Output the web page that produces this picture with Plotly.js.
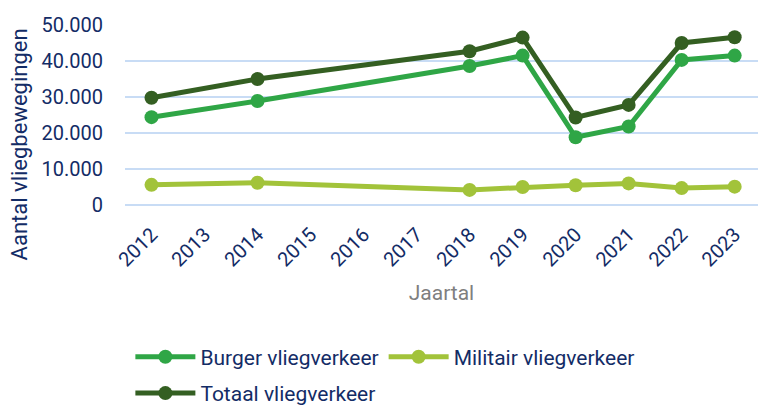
<!DOCTYPE html>
<html>
<head>
<meta charset="utf-8">
<script src="https://cdn.plot.ly/plotly-3.0.1.min.js"></script>
<style>html,body{margin:0;padding:0;background:#fff;}#chart{width:758px;height:409px;}</style>
</head>
<body>
<div id="chart"></div>
<script>
const years = ['2012','2013','2014','2015','2016','2017','2018','2019','2020','2021','2022','2023'];
const burger  = [24400, null, 28900, null, null, null, 38600, 41500, 18800, 21800, 40300, 41500];
const militair = [5600, null, 6200, null, null, null, 4200, 5000, 5500, 6000, 4700, 5100];
const totaal  = [29800, null, 35000, null, null, null, 42700, 46500, 24300, 27800, 45000, 46600];
const yTicks = [0, 10000, 20000, 30000, 40000, 50000];
const yTickText = ['0', '10.000', '20.000', '30.000', '40.000', '50.000'];

const navy = '#132c66';
const font = 'Roboto, "Open Sans", sans-serif';

function tr(name, y, color, legend) {
  return {
    type: 'scatter', mode: 'lines+markers', name: name, x: years, y: y,
    connectgaps: true, legend: legend,
    line: {color: color, width: 5},
    marker: {color: color, size: 14},
    hoverinfo: 'skip'
  };
}

const data = [
  tr('Burger vliegverkeer', burger, '#2fa646', 'legend'),
  tr('Militair vliegverkeer', militair, '#a2c33a', 'legend'),
  tr('Totaal vliegverkeer', totaal, '#345f22', 'legend2')
];

const layout = {
  width: 758, height: 409,
  margin: {l: 125, r: 0, t: 25, b: 204},
  paper_bgcolor: '#fff', plot_bgcolor: '#fff',
  font: {family: font, color: navy, size: 20},
  showlegend: true,
  xaxis: {
    type: 'category', range: [-0.5, 11.44],
    tickangle: -45, ticks: '', showgrid: false, zeroline: false, showline: false,
    ticklabelstandoff: 13,
    tickfont: {size: 20, color: navy},
    title: {text: 'Jaartal', font: {size: 21, color: '#7f7f7f'}, standoff: 14},
    automargin: false
  },
  yaxis: {
    range: [0, 50000], tickvals: yTicks, ticktext: yTickText,
    showgrid: true, gridcolor: '#c8dcf5', gridwidth: 2,
    zeroline: true, zerolinecolor: '#c8dcf5', zerolinewidth: 2, showline: false,
    ticks: '', ticklabelstandoff: 21, tickfont: {size: 20, color: navy},
    automargin: false
  },
  legend: {
    orientation: 'h', xref: 'container', yref: 'container',
    x: 0.172, xanchor: 'left', y: 0.127, yanchor: 'middle',
    font: {size: 21, color: navy}, bgcolor: 'rgba(0,0,0,0)', itemwidth: 60, tracegroupgap: 0
  },
  legend2: {
    orientation: 'h', xref: 'container', yref: 'container',
    x: 0.172, xanchor: 'left', y: 0.038, yanchor: 'middle',
    font: {size: 21, color: navy}, bgcolor: 'rgba(0,0,0,0)', itemwidth: 60
  },
  annotations: [{
    text: 'Aantal vliegbewegingen', textangle: -90, showarrow: false,
    xref: 'paper', yref: 'paper', x: -0.166, y: 0.336, xanchor: 'center', yanchor: 'middle',
    font: {size: 22, color: navy}
  }]
};

Plotly.newPlot('chart', data, layout, {displayModeBar: false, staticPlot: true});
</script>
</body>
</html>
